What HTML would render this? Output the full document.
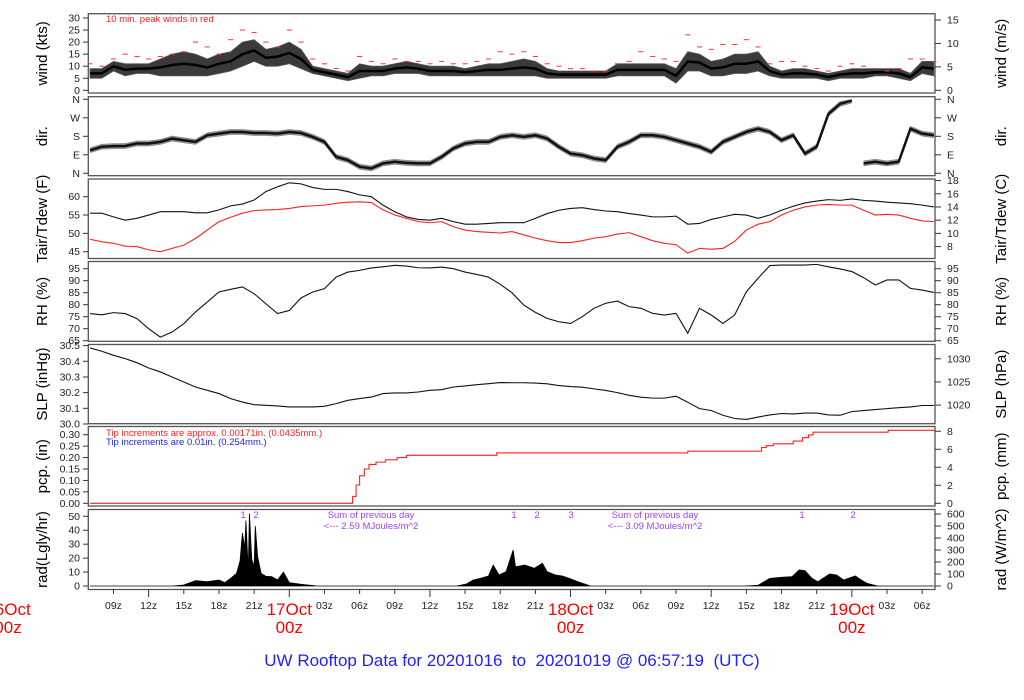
<!DOCTYPE html>
<html><head><meta charset="utf-8">
<style>
html,body{margin:0;padding:0;background:#fff;}
svg{display:block;font-family:"Liberation Sans",Arial,sans-serif;}
</style></head>
<body>
<svg id="chart" width="1024" height="700" viewBox="0 0 1024 700" xmlns="http://www.w3.org/2000/svg">
<text x="512" y="666" text-anchor="middle" font-size="17" fill="#2020ff" xml:space="preserve">UW Rooftop Data for 20201016  to  20201019 @ 06:57:19  (UTC)</text>
<text x="106" y="22" font-size="9.5" fill="#ff2020">10 min. peak winds in red</text>
<text x="106" y="436" font-size="9.5" fill="#ff2020">Tip increments are approx. 0.00171in. (0.0435mm.)</text>
<text x="106" y="445" font-size="9.5" fill="#2020ff">Tip increments are 0.01in. (0.254mm.)</text>
<g font-size="9.5" fill="#a040ff" text-anchor="middle">
<text x="371" y="518">Sum of previous day</text>
<text x="371" y="529">&lt;--- 2.59 MJoules/m^2</text>
<text x="655" y="518">Sum of previous day</text>
<text x="655" y="529">&lt;--- 3.09 MJoules/m^2</text>
<text x="243" y="518">1</text><text x="256" y="518">2</text>
<text x="514" y="518">1</text><text x="537" y="518">2</text><text x="571" y="518">3</text>
<text x="802" y="518">1</text><text x="853" y="518">2</text>
</g>
</svg>
<script>
const hours=[7,8,9,10,11,12,13,14,15,16,17,18,19,20,21,22,23,24,25,26,27,28,29,30,31,32,33,34,35,36,37,38,39,40,41,42,43,44,45,46,47,48,49,50,51,52,53,54,55,56,57,58,59,60,61,62,63,64,65,66,67,68,69,70,71,72,73,74,75,76,77,78,79];
const windLo=[5,5,8,6,7,7,6,6,6,6,6,7,8,10,12,10,10,11,9,7,6,5,4,5,6,6,7,7,7,6,6,6,6,6,6,6,6,6,6,5,5,5,5,5,5,6,6,6,6,6,3,8,8,6,6,7,7,8,6,5,5,5,5,4,5,5,5,6,6,5,4,7,6];
const windHi=[9,9,12,11,11,11,13,15,16,15,13,15,16,20,21,17,18,20,17,10,9,8,7,11,10,10,11,12,11,10,10,10,9,10,11,11,12,13,12,9,8,8,8,8,8,11,11,11,11,11,9,16,15,12,13,15,15,16,10,8,9,9,8,7,8,9,9,9,9,9,7,12,12];
const gusts=[11,10,13,15,14,13,14,15,16,20,18,15,21,25,24,20,18,25,20,13,11,9,8,14,12,11,13,12,12,11,12,11,11,12,13,16,15,16,14,11,10,9,9,8,8,11,12,16,14,13,12,23,18,17,19,19,21,18,11,12,12,10,9,8,10,11,10,9,8,9,13,13,12];
const windDir=[112,129,132,133,145,145,153,169,161,153,185,193,201,201,196,196,193,201,196,177,153,80,64,32,24,48,56,51,48,48,80,121,145,153,153,177,185,177,185,169,129,96,88,72,64,129,153,185,185,177,161,145,129,104,153,177,201,217,201,161,185,96,129,289,338,354,48,56,48,56,217,193,185];
const tairF=[55.5,55.5,54.5,53.6,54.1,55,55.9,55.9,55.9,55.6,55.6,56.4,57.5,58,59.1,61.4,62.7,63.8,63.5,62.5,62,62,61.4,60.5,60,57.7,55.9,54.5,53.8,53.6,54.1,53.2,52.5,52.5,52.7,52.9,52.9,52.9,54.1,55.4,56.3,56.8,57,56.5,56.1,55.9,55.4,55,54.5,54.5,54.7,52.5,52.7,53.8,54.5,55.2,55,54.1,55,56.3,57.4,58.3,58.8,59.2,59,59.4,59,58.8,58.5,58.3,58.1,57.7,57.2];
const tdewF=[48.4,47.7,47.3,46.5,46.4,45.5,45,45.9,46.8,48.6,50.9,53.2,54.4,55.5,56.2,56.4,56.5,56.8,57.3,57.5,57.7,58.2,58.5,58.6,58.4,56.4,55,54.1,53.2,52.9,53.2,51.8,50.9,50.5,50.3,50.1,50.5,49.6,48.7,48,47.5,47.5,48,48.7,49.1,49.8,50.2,49.1,48,47.3,46.9,44.6,45.9,45.7,45.9,47.8,50.9,52.5,53.2,55,56.3,57.2,57.7,57.9,57.7,57.7,56.3,55,55.2,55,54.1,53.4,53.2];
const rh=[76.3,75.8,76.7,76.3,74.2,70,66.5,68.6,72.1,77,81.1,85.3,86.4,87.4,84.6,80.4,76.3,77.6,82.8,85.3,86.7,91.5,93.6,94.3,95.3,95.8,96.4,96.1,95.4,95.3,95.7,95,93.6,92.6,91.5,88.5,85,79.9,76.8,74.3,72.9,72.2,75,78.5,80.6,81.5,79.2,78.5,76.4,75.7,76.4,68.1,78.5,75.7,72.2,75.7,85.4,91,96.3,96.5,96.5,96.5,96.8,95.8,94.9,93.8,91.3,88.2,90.3,90.3,86.8,86.1,85.1];
const slp=[30.485,30.464,30.438,30.417,30.391,30.357,30.332,30.3,30.268,30.236,30.215,30.194,30.162,30.14,30.123,30.119,30.115,30.109,30.109,30.109,30.113,30.13,30.151,30.162,30.172,30.194,30.198,30.198,30.204,30.215,30.219,30.236,30.243,30.251,30.257,30.264,30.263,30.263,30.261,30.256,30.245,30.239,30.235,30.224,30.214,30.2,30.183,30.171,30.165,30.165,30.177,30.139,30.098,30.086,30.056,30.035,30.029,30.044,30.058,30.067,30.064,30.07,30.07,30.058,30.056,30.079,30.086,30.092,30.098,30.104,30.109,30.118,30.118];
const pcpTimes=[7,29.1,29.4,29.7,30.0,30.4,30.8,31.4,32.2,33.2,34,41.7,58,64.3,64.7,65.3,67,67.8,68.3,68.7,75.1,79.1];
const pcpValues=[0,0,0.03,0.08,0.12,0.15,0.17,0.18,0.19,0.20,0.21,0.22,0.228,0.244,0.252,0.26,0.272,0.287,0.299,0.311,0.319,0.319];
const radTimes=[7,14.1,15,16,17,18,18.5,19,19.5,19.8,20,20.2,20.3,20.5,20.6,20.8,21,21.1,21.3,21.6,22,22.5,23,23.5,23.8,24,25,26,26.3,38.3,39.1,39.7,40.3,41,41.4,41.9,42.5,43.1,43.3,44.1,44.9,45.6,46,46.7,47.3,47.9,48.6,49.2,49.7,62.9,64,65,65.9,66.9,67.5,68,68.6,69.1,70.1,70.7,71.3,72.3,72.8,73.3,74.2,79];
const radValues=[0,0,0.7,3.8,3.1,4.3,2.4,5.5,9,18,38,27,47,11,52,19,14,43,21,9,7,6.7,4.3,10,5.5,2.4,1.2,0.3,0,0,1.4,4.3,5.5,7.2,15,7.9,10.3,25.8,13.8,15,12.7,16.3,10.3,7.9,7.2,5.5,3.1,1.4,0,0,0.5,5.5,6.2,6.7,11.5,11,5.5,3.1,8.6,7.9,4.3,7.2,4.3,1.9,0,0];

const windTicks=[0,5,10,15,20,25,30], msTicks=[0,5,10,15];
const dirTicks=[0,90,180,270,360], dirLabels=["N","E","S","W","N"];
const fTicks=[45,50,55,60], cTicks=[8,10,12,14,16,18];
const rhTicks=[65,70,75,80,85,90,95];
const inhgTicks=[30.0,30.1,30.2,30.3,30.4,30.5], hpaTicks=[1020,1025,1030];
const pcpTicks=[0,0.05,0.1,0.15,0.2,0.25,0.3], mmTicks=[0,2,4,6,8];
const radTicks=[0,10,20,30,40,50], wm2Ticks=[0,100,200,300,400,500,600];
const timeTicks=[9,12,15,18,21,24,27,30,33,36,39,42,45,48,51,54,57,60,63,66,69,72,75,78];

const NS="http://www.w3.org/2000/svg", svg=document.getElementById('chart');
const X0=88.3,X1=935;
const xs=t=>8+t*11.72;
const wy=v=>90.3-v*2.41, dy=d=>173.3-d*74/360, ty=f=>196.7-(f-60)*3.667, ry=r=>268.7+(95-r)*2.4;
const sy=p=>424-(p-30)*156.8, py=p=>503.3-p*228.7, rady=v=>586-v*1.394;
function el(tag,attrs,parent){const e=document.createElementNS(NS,tag);for(const k in attrs)e.setAttribute(k,attrs[k]);(parent||svg).appendChild(e);return e;}
function txt(s,attrs,parent){const e=el('text',attrs,parent);e.textContent=s;return e;}
const panels=[
 {n:'wind',top:13.7,bot:93,l:'wind (kts)',r:'wind (m/s)'},
 {n:'dir',top:96.7,bot:175.7,l:'dir.',r:'dir.'},
 {n:'temp',top:179,bot:258.5,l:'Tair/Tdew (F)',r:'Tair/Tdew (C)'},
 {n:'rh',top:261.5,bot:341.3,l:'RH (%)',r:'RH (%)'},
 {n:'slp',top:344.5,bot:423.7,l:'SLP (inHg)',r:'SLP (hPa)'},
 {n:'pcp',top:426.5,bot:506,l:'pcp. (in)',r:'pcp. (mm)'},
 {n:'rad',top:509.5,bot:589.5,l:'rad(Lgly/hr)',r:'rad (W/m^2)'}];
panels.forEach(p=>{
 const r=el('rect',{x:X0,y:p.top,width:X1-X0,height:p.bot-p.top,fill:'none',stroke:'#555','stroke-width':1.3});
 
 
 const cy=(p.top+p.bot)/2;
 const a=txt(p.l,{x:0,y:0,'font-size':15,'text-anchor':'middle',transform:`translate(47,${cy}) rotate(-90)`});
 
 
 const b=txt(p.r,{x:0,y:0,'font-size':15,'text-anchor':'middle',transform:`translate(1006,${cy}) rotate(-90)`});
 
 
});
function leftAxis(name,vals,fy,fmt){const g=el('g',{});
 
 
 vals.forEach((v,i)=>{const y=fy(v);el('line',{x1:83,x2:X0,y1:y,y2:y,stroke:'#333'},g);
 txt(fmt(v,i),{x:80,y:y+3.5,'font-size':10.5,'text-anchor':'end',fill:'#222'},g);});}
function rightAxis(name,vals,fy,fmt){const g=el('g',{});
 
 
 vals.forEach((v,i)=>{const y=fy(v);el('line',{x1:X1,x2:X1+6,y1:y,y2:y,stroke:'#333'},g);
 txt(fmt(v,i),{x:947,y:y+3.5,'font-size':10.5,fill:'#222'},g);});}
leftAxis('wind-kts-axis',windTicks,wy,v=>v);
rightAxis('wind-ms-axis',msTicks,v=>wy(v*1.944),v=>v);
leftAxis('dir-left-axis',dirTicks,dy,(v,i)=>dirLabels[i]);
rightAxis('dir-right-axis',dirTicks,dy,(v,i)=>dirLabels[i]);
leftAxis('temp-f-axis',fTicks,ty,v=>v);
rightAxis('temp-c-axis',cTicks,v=>ty(v*1.8+32),v=>v);
leftAxis('rh-left-axis',rhTicks,ry,v=>v);
rightAxis('rh-right-axis',rhTicks,ry,v=>v);
leftAxis('slp-inhg-axis',inhgTicks,sy,v=>v.toFixed(1));
rightAxis('slp-hpa-axis',hpaTicks,v=>sy(v/33.8639),v=>v);
leftAxis('pcp-in-axis',pcpTicks,py,v=>v.toFixed(2));
rightAxis('pcp-mm-axis',mmTicks,v=>py(v/25.4),v=>v);
leftAxis('rad-lgly-axis',radTicks,rady,v=>v);
rightAxis('rad-wm2-axis',wm2Ticks,v=>rady(v/11.622),v=>v);

// time axis
const tg=el('g',{});


timeTicks.forEach(t=>{const x=xs(t);const major=(t%12===0);
 el('line',{x1:x,x2:x,y1:589.5,y2:major?597:594,stroke:'#333'},tg);
 if(t%24===0){const d=16+t/24;
  txt(d+'Oct',{x:x,y:615,'font-size':17,'text-anchor':'middle',fill:'#ff0000'},tg);
  txt('00z',{x:x,y:633,'font-size':17,'text-anchor':'middle',fill:'#ff0000'},tg);
 } else txt(String(t%24).padStart(2,'0')+'z',{x:x,y:609,'font-size':10.5,'text-anchor':'middle',fill:'#222'},tg);
});
txt('16Oct',{x:xs(0),y:615,'font-size':17,'text-anchor':'middle',fill:'#ff0000'},tg);
txt('00z',{x:xs(0),y:633,'font-size':17,'text-anchor':'middle',fill:'#ff0000'},tg);

// wind band (grey envelope) + mean line
let d='M'+hours.map((t,i)=>xs(t)+','+wy(windHi[i])).join('L');
d+='L'+hours.map((t,i)=>xs(t)+','+wy(windLo[i])).reverse().join('L')+'Z';
const wb=el('path',{d:d,fill:'#3a3a3a',stroke:'#555','stroke-width':0.8});


const wm=el('path',{d:'M'+hours.map((t,i)=>xs(t)+','+wy((windHi[i]+windLo[i])/2)).join('L'),fill:'none',stroke:'#000','stroke-width':2.5});


const gg=el('g',{});


hours.forEach((t,i)=>{const y=wy(gusts[i]);
 const m=el('line',{x1:xs(t)-2.5,x2:xs(t)+2.5,y1:y,y2:y,stroke:'#ff3030','stroke-width':1},gg);
 
 
});
// direction band, broken at wraps
const dg=el('g',{});


let seg=[];const segs=[];
hours.forEach((t,i)=>{if(i>0&&Math.abs(windDir[i]-windDir[i-1])>200){segs.push(seg);seg=[];}seg.push(i);});segs.push(seg);
segs.forEach(s=>{
 let pd='M'+s.map(i=>xs(hours[i])+','+dy(Math.min(360,windDir[i]+14))).join('L');
 pd+='L'+s.map(i=>xs(hours[i])+','+dy(Math.max(0,windDir[i]-14))).reverse().join('L')+'Z';
 el('path',{d:pd,fill:'#333','fill-opacity':0.55,stroke:'none'},dg);
 el('path',{d:'M'+s.map(i=>xs(hours[i])+','+dy(windDir[i])).join('L'),fill:'none',stroke:'#111','stroke-width':2.5},dg);
});
function line(name,arr,fy,color,w){const p=el('path',{d:'M'+hours.map((t,i)=>xs(t)+','+fy(arr[i])).join('L'),fill:'none',stroke:color,'stroke-width':w||1.1});
 
 }
line('tair-series',tairF,ty,'#111');
line('tdew-series',tdewF,ty,'#ff2020');
line('rh-series',rh,ry,'#111');
line('slp-series',slp,sy,'#111');
// pcp step line
let pp='M'+xs(pcpTimes[0])+','+py(pcpValues[0]);
for(let i=1;i<pcpTimes.length;i++){pp+='L'+xs(pcpTimes[i])+','+py(pcpValues[i-1])+'L'+xs(pcpTimes[i])+','+py(pcpValues[i]);}
const pl=el('path',{d:pp,fill:'none',stroke:'#ff2020','stroke-width':1.1});


// radiation fill
let rp='M'+xs(radTimes[0])+','+rady(0)+'L'+radTimes.map((t,i)=>xs(t)+','+rady(radValues[i])).join('L')+'L'+xs(radTimes[radTimes.length-1])+','+rady(0)+'Z';
const ra=el('path',{d:rp,fill:'#000',stroke:'#000','stroke-width':0.8});


</script>
</body></html>
